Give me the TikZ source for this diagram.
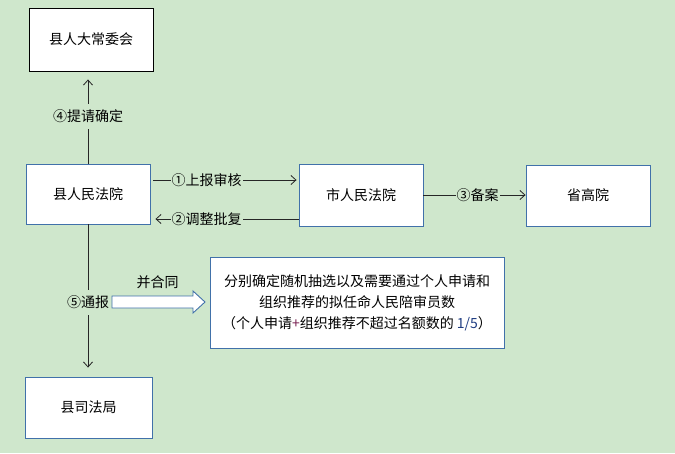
\documentclass[tikz,border=0pt]{standalone}
\usepackage{fontspec}
\setmainfont{Noto Sans CJK SC}
\usetikzlibrary{arrows.meta}
\definecolor{bggreen}{RGB}{207,231,204}
\definecolor{boxblue}{RGB}{65,113,170}
\definecolor{plusred}{RGB}{120,30,80}
\definecolor{numblue}{RGB}{30,60,130}
\tikzset{
  unitbox/.style={draw=boxblue, fill=white, line width=0.9pt, minimum width=124pt, minimum height=61pt, inner sep=0pt},
  flowline/.style={line width=0.8pt, draw=black!85},
  flowarrow/.style={flowline, -{Straight Barb[length=5pt,width=9pt]}},
  linelabel/.style={fill=bggreen, inner xsep=1pt, inner ysep=6pt}
}
\begin{document}
\begin{tikzpicture}[x=1pt,y=-1pt,font=\fontsize{14}{21}\selectfont]
% background
\fill[bggreen] (0,0) rectangle (675,453);
\useasboundingbox (0,0) rectangle (675,453);

% Drawing boxes
\node[unitbox, draw=black, minimum height=63pt] (npc) at (91,39.5) {县人大常委会};
\node[unitbox, minimum height=60pt] (court) at (88,194) {县人民法院};
\node[unitbox, minimum height=62pt] (city) at (361,195) {市人民法院};
\node[unitbox] (prov) at (588,195.5) {省高院};
\node[unitbox, minimum width=127pt] (bureau) at (88.5,407.5) {县司法局};
\node[unitbox, minimum width=294pt, minimum height=91pt, align=center] (quota) at (357,302.5)
  {分别确定随机抽选以及需要通过个人申请和\\
   组织推荐的拟任命人民陪审员数\\
   （个人申请\textcolor{plusred}{+}组织推荐不超过名额数的 \textcolor{numblue}{1/5}）};

% Drawing connectors
\draw[flowarrow, shorten <=3pt, shorten >=2pt] ([yshift=14pt]court.east) -- ([yshift=14pt]court.east -| city.west)
  node[linelabel, pos=0.38] (up) {①上报审核};
\draw[flowarrow, shorten >=5pt] ([yshift=-25pt]court.east -| city.west) -- ([yshift=-25pt]court.east)
  node[linelabel, pos=0.62] (down) {②调整批复};
\draw[flowarrow] (city.east) -- (city.east -| prov.west)
  node[linelabel, pos=0.53] (file) {③备案};
\draw[flowarrow, shorten >=8pt] (court.north) -- (court.north |- npc.south)
  node[linelabel, pos=0.51] (ask) {④提请确定};
\draw[flowarrow, shorten >=9pt] (court.south) -- (court.south |- bureau.north)
  node[linelabel, pos=0.51] (notify) {⑤通报};

% Drawing block arrow
\node (merge) at (157.5,282) {并合同};
\draw[boxblue, fill=white, line width=0.9pt] (112,296) -- (193,296) -- (193,291) -- (205,302)
  -- (193,313) -- (193,308) -- (112,308) -- cycle;
\end{tikzpicture}
\end{document}
